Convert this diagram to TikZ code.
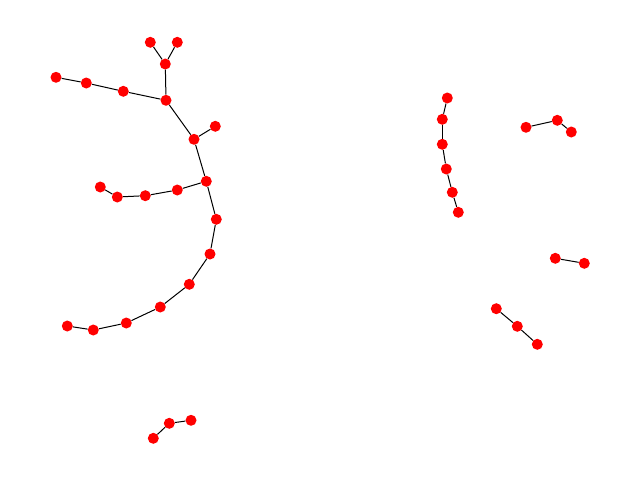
\documentclass[tikz,border=0pt]{standalone}
\begin{document}
\begin{tikzpicture}[x=1pt,y=-1pt,
  vtx/.style={circle,fill=red,draw=none,inner sep=0pt,minimum size=11pt},
  edge/.style={draw=black,line width=1pt}]
\useasboundingbox (0,0) rectangle (640,480);
% tree component
\node[vtx] (a1) at (150.3,42.3) {};
\node[vtx] (a2) at (177.3,42.3) {};
\node[vtx] (a3) at (165.3,64) {};
\node[vtx] (a4) at (166,100.3) {};
\node[vtx] (b1) at (56,77.3) {};
\node[vtx] (b2) at (86.3,83) {};
\node[vtx] (b3) at (123.3,91.3) {};
\node[vtx] (c1) at (194,139.3) {};
\node[vtx] (c2) at (215.3,126.3) {};
\node[vtx] (c3) at (206.3,181.3) {};
\node[vtx] (d1) at (177.3,190) {};
\node[vtx] (d2) at (145.3,195.7) {};
\node[vtx] (d3) at (117.3,197) {};
\node[vtx] (d4) at (100.3,187) {};
\node[vtx] (e1) at (216.3,219.3) {};
\node[vtx] (e2) at (210,254) {};
\node[vtx] (e3) at (189.3,284.3) {};
\node[vtx] (e4) at (160.3,307) {};
\node[vtx] (e5) at (126.3,323) {};
\node[vtx] (e6) at (93.3,330) {};
\node[vtx] (e7) at (67.3,326) {};
% chain
\node[vtx] (f1) at (447.3,98) {};
\node[vtx] (f2) at (442.3,119.3) {};
\node[vtx] (f3) at (442.3,144.3) {};
\node[vtx] (f4) at (446.3,169) {};
\node[vtx] (f5) at (452.3,192.3) {};
\node[vtx] (f6) at (458.3,212.3) {};
% small components
\node[vtx] (g1) at (526,127.3) {};
\node[vtx] (g2) at (557.3,120.3) {};
\node[vtx] (g3) at (571.3,132) {};
\node[vtx] (h1) at (153.3,438.3) {};
\node[vtx] (h2) at (169.3,423.3) {};
\node[vtx] (h3) at (191,420.3) {};
\node[vtx] (i1) at (555.3,258.3) {};
\node[vtx] (i2) at (584.3,263.3) {};
\node[vtx] (j1) at (496.3,308.7) {};
\node[vtx] (j2) at (517.3,326.3) {};
\node[vtx] (j3) at (537.3,344.3) {};
% edges
\draw[edge] (a1) -- (a3);
\draw[edge] (a2) -- (a3);
\draw[edge] (a3) -- (a4);
\draw[edge] (b1) -- (b2);
\draw[edge] (b2) -- (b3);
\draw[edge] (b3) -- (a4);
\draw[edge] (a4) -- (c1);
\draw[edge] (c1) -- (c2);
\draw[edge] (c1) -- (c3);
\draw[edge] (c3) -- (d1);
\draw[edge] (d1) -- (d2);
\draw[edge] (d2) -- (d3);
\draw[edge] (d3) -- (d4);
\draw[edge] (c3) -- (e1);
\draw[edge] (e1) -- (e2);
\draw[edge] (e2) -- (e3);
\draw[edge] (e3) -- (e4);
\draw[edge] (e4) -- (e5);
\draw[edge] (e5) -- (e6);
\draw[edge] (e6) -- (e7);
\draw[edge] (f1) -- (f2);
\draw[edge] (f2) -- (f3);
\draw[edge] (f3) -- (f4);
\draw[edge] (f4) -- (f5);
\draw[edge] (f5) -- (f6);
\draw[edge] (g1) -- (g2);
\draw[edge] (g2) -- (g3);
\draw[edge] (h1) -- (h2);
\draw[edge] (h2) -- (h3);
\draw[edge] (i1) -- (i2);
\draw[edge] (j1) -- (j2);
\draw[edge] (j2) -- (j3);
\end{tikzpicture}
\end{document}
